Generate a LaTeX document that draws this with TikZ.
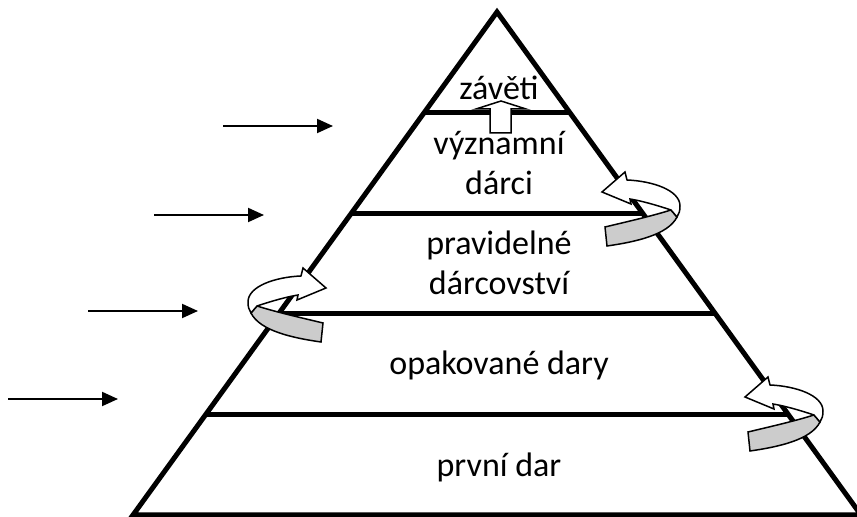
\documentclass[tikz,border=0pt]{standalone}
\usepackage{fontspec}
\setmainfont{Carlito}
\usetikzlibrary{calc}
\usetikzlibrary{arrows.meta}

\tikzset{
  divider/.style={line width=2.5pt},
  feed/.style={line width=1pt,-{Triangle[length=8pt,width=7pt]}},
  tier/.style={font=\fontsize{17}{20}\selectfont,align=center,anchor=base,inner sep=0pt},
  uturn/.pic={
    \draw[fill=gray!40,line width=0.75pt] (15,67) .. controls (40,61) and (62,56) .. (81,50)
      -- (87,57) .. controls (78,75) and (45,82) .. (17,86) -- cycle;
    \draw[fill=white,line width=0.75pt] (12,32) -- (35,12) -- (37,20)
      .. controls (62,21) and (90,30) .. (90,46) .. controls (90,51) and (89,54) .. (87,57)
      -- (81,50) .. controls (66,45) and (52,41) .. (40,39) -- (41,44) -- cycle;
  }
}

\begin{document}
\begin{tikzpicture}[x=0.5pt,y=-0.5pt]
  \useasboundingbox (0,0) rectangle (857,517);
  % pyramid
  \draw[line width=2.5pt] (497,12) coordinate (T) -- (861,515) coordinate (R) -- (133,515) coordinate (L) -- cycle;
  \foreach \t in {0.2,0.4,0.6,0.8}
    \draw[divider] ($(T)!\t!(L)$) -- ($(T)!\t!(R)$);
  % incoming arrows
  \foreach \x/\y [count=\i] in {223/126,154/215,88/311,8/399}
    \draw[feed] (\x,\y) coordinate (in\i) -- ++(110,0) coordinate (to\i);
  % turning arrows
  \pic at (590,160) {uturn};
  \pic at (733,365) {uturn};
  \pic[xscale=-1] at (338,256) {uturn};
  \draw[fill=white,line width=0.75pt] (490,133) -- (490,109) -- (476,109) -- (501,101)
    -- (526,109) -- (511,109) -- (511,133) -- cycle;
  % labels
  \node[tier] (zaveti) at (499,100) {závěti};
  \node[tier] (vyznamni) at (499,195) {významní\\dárci};
  \node[tier] (pravidelne) at (499,295) {pravidelné\\dárcovství};
  \node[tier] (opakovane) at (499,375) {opakované dary};
  \node[tier] (prvni) at (499,477) {první dar};
\end{tikzpicture}
\end{document}
